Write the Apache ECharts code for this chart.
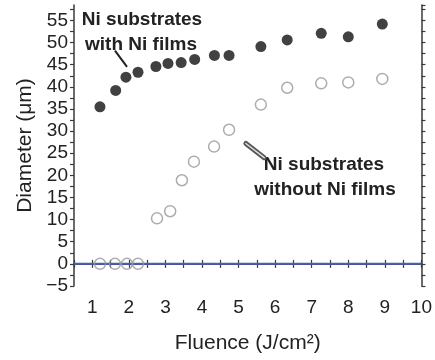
<!DOCTYPE html>
<html><head><meta charset="utf-8">
<script src="https://cdn.jsdelivr.net/npm/echarts@6/dist/echarts.min.js"></script>
<style>html,body{margin:0;padding:0;background:#fff}#c{width:435px;height:360px}</style>
</head><body><div id="c"></div>
<script>
// Ni substrates with Ni films
const withFluence = [1.21, 1.64, 1.92, 2.25, 2.74, 3.07, 3.43, 3.8, 4.34, 4.74, 5.61, 6.33, 7.26, 8.0, 8.93];
const withDiameter = [35.5, 39.2, 42.2, 43.3, 44.6, 45.3, 45.5, 46.2, 47.1, 47.1, 49.1, 50.6, 52.1, 51.3, 54.2];
// Ni substrates without Ni films
const withoutFluence = [1.21, 1.62, 1.95, 2.25, 2.77, 3.13, 3.45, 3.78, 4.33, 4.74, 5.61, 6.33, 7.26, 8.0, 8.93];
const withoutDiameter = [0, 0, 0, 0, 10.3, 11.9, 18.9, 23.1, 26.5, 30.3, 36.0, 39.8, 40.8, 41.0, 41.8];
const xTicks = [1, 2, 3, 4, 5, 6, 7, 8, 9, 10];
const yTicks = [-5, 0, 5, 10, 15, 20, 25, 30, 35, 40, 45, 50, 55];

const FONT = 'Liberation Sans';
const TXT = '#222';
const AX = '#3a3a3a';
const axisCommon = {
  axisLine: {show: true, lineStyle: {color: AX, width: 1.5}},
  axisTick: {show: true, inside: false, length: 4, lineStyle: {color: AX, width: 1.2}},
  splitLine: {show: false}
};
const chart = echarts.init(document.getElementById('c'), null, {renderer: 'canvas'});
const option = {
  animation: false,
  backgroundColor: '#fff',
  grid: {left: 74, right: 12, top: 5, bottom: 74},
  xAxis: [
    Object.assign({}, axisCommon, {
      type: 'value', min: 0.5, max: 10, interval: 0.5, position: 'bottom',
      name: 'Fluence (J/cm²)', nameLocation: 'middle', nameGap: 47,
      nameTextStyle: {fontFamily: FONT, fontSize: 21, color: TXT},
      axisLabel: {fontFamily: FONT, fontSize: 19, color: TXT, margin: 12,
        formatter: v => (xTicks.indexOf(v) >= 0 ? String(v) : '')}
    }),
    Object.assign({}, axisCommon, {
      type: 'value', min: 0.5, max: 10, interval: 0.5, position: 'top',
      axisLabel: {show: false}
    })
  ],
  yAxis: [
    Object.assign({}, axisCommon, {
      type: 'value', min: -5, max: 58.5, interval: 2.5, position: 'left',
      name: 'Diameter (μm)', nameLocation: 'middle', nameGap: 38,
      nameTextStyle: {fontFamily: FONT, fontSize: 21, color: TXT},
      axisLabel: {fontFamily: FONT, fontSize: 19, color: TXT, margin: 6,
        showMaxLabel: false,
        formatter: v => (yTicks.indexOf(v) >= 0 ? (v < 0 ? '\u2212' + Math.abs(v) : String(v)) : '')}
    }),
    Object.assign({}, axisCommon, {
      type: 'value', min: -5, max: 58.5, interval: 2.5, position: 'right',
      axisLabel: {show: false}
    })
  ],
  series: [
    {
      type: 'line', data: [[0.5, 0], [10, 0]], symbol: 'none',
      lineStyle: {color: '#4d5bbd', width: 2}, z: 1, silent: true
    },
    {
      type: 'scatter', name: 'without',
      data: withoutFluence.map((x, i) => [x, withoutDiameter[i]]),
      symbol: 'circle', symbolSize: 11,
      itemStyle: {color: 'rgba(255,255,255,0)', borderColor: '#999', borderWidth: 1.5}, z: 3
    },
    {
      type: 'scatter', name: 'with',
      data: withFluence.map((x, i) => [x, withDiameter[i]]),
      symbol: 'circle', symbolSize: 11,
      itemStyle: {color: '#111'}, z: 4
    }
  ]
};
chart.setOption(option);

// annotations (arrows in data coordinates)
const arrow1 = [[1.62, 48.2], [1.95, 44.5]];
const arrow2 = [[5.2, 27.2], [5.7, 24.0]];
const p = pts => pts.map(d => chart.convertToPixel({xAxisIndex: 0, yAxisIndex: 0}, d));
const a1 = p(arrow1), a2 = p(arrow2);
const txtStyle = (t, x, y) => ({type: 'text', x: x, y: y, style: {text: t, fontFamily: FONT, fontSize: 19, fontWeight: 'bold', fill: TXT, align: 'center', verticalAlign: 'middle'}, z: 10});
chart.setOption({
  graphic: [
    txtStyle('Ni substrates', 142, 20),
    txtStyle('with Ni films', 141, 45),
    txtStyle('Ni substrates', 324, 165),
    txtStyle('without Ni films', 325, 190),
    {type: 'line', shape: {x1: a1[0][0], y1: a1[0][1], x2: a1[1][0], y2: a1[1][1]}, style: {stroke: '#222', lineWidth: 2}, z: 10},
    {type: 'line', shape: {x1: a2[0][0], y1: a2[0][1], x2: a2[1][0], y2: a2[1][1]}, style: {stroke: '#555', lineWidth: 5, lineCap: 'round'}, z: 10},
    {type: 'line', shape: {x1: a2[0][0], y1: a2[0][1], x2: a2[1][0], y2: a2[1][1]}, style: {stroke: '#ddd', lineWidth: 1.5, lineCap: 'round'}, z: 11}
  ]
});
</script></body></html>
